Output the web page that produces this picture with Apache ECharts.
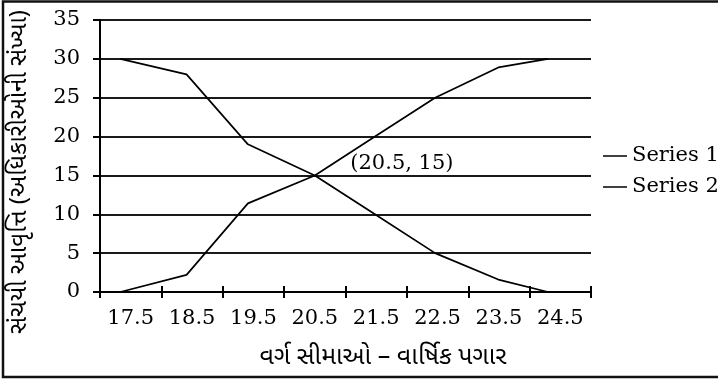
<!DOCTYPE html>
<html>
<head>
<meta charset="utf-8">
<script src="https://cdn.jsdelivr.net/npm/echarts@6/dist/echarts.min.js"></script>
<style>
  html, body { margin: 0; padding: 0; background: #fff; }
  #chart { width: 718px; height: 385px; }
</style>
</head>
<body>
<div id="chart"></div>
<script>
// Class limits shown along the bottom axis
const categories = ['17.5', '18.5', '19.5', '20.5', '21.5', '22.5', '23.5', '24.5'];
// Horizontal positions of the plotted points (salary scale)
const pointX = [17.33, 18.41, 19.41, 20.5, 21.48, 22.46, 23.49, 24.3];
// Cumulative frequencies
const series1 = [30, 28, 19, 15, 10, 5, 1.6, 0];
const series2 = [0, 2.2, 11.4, 15, 20, 25, 28.9, 30];
// Where the two curves meet
const crossPoint = [20.5, 15];
const seriesNames = ['Series 1', 'Series 2'];

const serif = 'DejaVu Serif';
const gujarati = "'Noto Sans Gujarati', 'Noto Sans', sans-serif";

const chart = echarts.init(document.getElementById('chart'), null, { renderer: 'canvas' });

const toPairs = (vals) => pointX.map((x, i) => [x, vals[i]]);

chart.setOption({
  animation: false,
  backgroundColor: '#fff',
  grid: { left: 100, right: 127, top: 20, bottom: 93, containLabel: false },
  legend: {
    data: seriesNames,
    orient: 'vertical',
    left: 603,
    top: 145,
    padding: 0,
    icon: 'rect',
    itemWidth: 24,
    itemHeight: 1.5,
    itemGap: 9,
    textStyle: { fontFamily: serif, fontSize: 21, color: '#000', lineHeight: 22 }
  },
  xAxis: [
    {
      type: 'category',
      data: categories,
      position: 'bottom',
      boundaryGap: true,
      axisLine: { show: true, lineStyle: { color: '#000', width: 2 } },
      axisTick: { show: true, length: 6, lineStyle: { color: '#000', width: 2 } },
      axisLabel: { fontFamily: serif, fontSize: 21, color: '#000', margin: 16 },
      splitLine: { show: false }
    },
    {
      type: 'value',
      min: 17,
      max: 25,
      interval: 1,
      position: 'bottom',
      axisLine: { show: false },
      axisTick: { show: true, inside: true, length: 6, lineStyle: { color: '#000', width: 2 } },
      axisLabel: { show: false },
      splitLine: { show: false }
    }
  ],
  yAxis: {
    type: 'value',
    min: 0,
    max: 35,
    interval: 5,
    axisLine: { show: true, lineStyle: { color: '#000', width: 2 } },
    axisTick: { show: true, length: 7, lineStyle: { color: '#000', width: 2 } },
    axisLabel: { fontFamily: serif, fontSize: 21, color: '#000', margin: 20 },
    splitLine: { show: true, lineStyle: { color: '#1a1a1a', width: 2 } }
  },
  series: [
    {
      name: seriesNames[0],
      type: 'line',
      xAxisIndex: 1,
      data: toPairs(series1),
      symbol: 'none',
      lineStyle: { color: '#000', width: 1.7 },
      itemStyle: { color: '#000' }
    },
    {
      name: seriesNames[1],
      type: 'line',
      xAxisIndex: 1,
      data: toPairs(series2),
      symbol: 'none',
      lineStyle: { color: '#000', width: 1.7 },
      itemStyle: { color: '#000' }
    },
    {
      type: 'scatter',
      xAxisIndex: 1,
      data: [crossPoint],
      symbolSize: 1,
      itemStyle: { color: '#000' },
      silent: true,
      label: {
        show: true,
        position: 'right',
        distance: 35,
        offset: [0, -12],
        formatter: (p) => '(' + p.value[0] + ', ' + p.value[1] + ')',
        fontFamily: serif,
        fontSize: 21,
        color: '#000',
        opacity: 1
      }
    }
  ],
  graphic: [
    {
      type: 'rect',
      shape: { x: 3, y: 1.5, width: 730, height: 375.5 },
      style: { fill: 'none', stroke: '#111', lineWidth: 2.5 },
      silent: true
    },
    {
      type: 'text',
      x: 383,
      y: 359,
      style: {
        text: 'વર્ગ સીમાઓ – વાર્ષિક પગાર',
        x: 0, y: 0,
        align: 'center',
        verticalAlign: 'middle',
        font: '25px ' + gujarati,
        fill: '#000'
      }
    },
    {
      type: 'text',
      x: 22,
      y: 172,
      rotation: Math.PI / 2,
      style: {
        text: 'સંચયી આવૃત્તિ (અધિકારીઓની સંખ્યા)',
        x: 0, y: 0,
        align: 'center',
        verticalAlign: 'middle',
        font: '24px ' + gujarati,
        fill: '#000'
      }
    }
  ]
});
</script>
</body>
</html>
